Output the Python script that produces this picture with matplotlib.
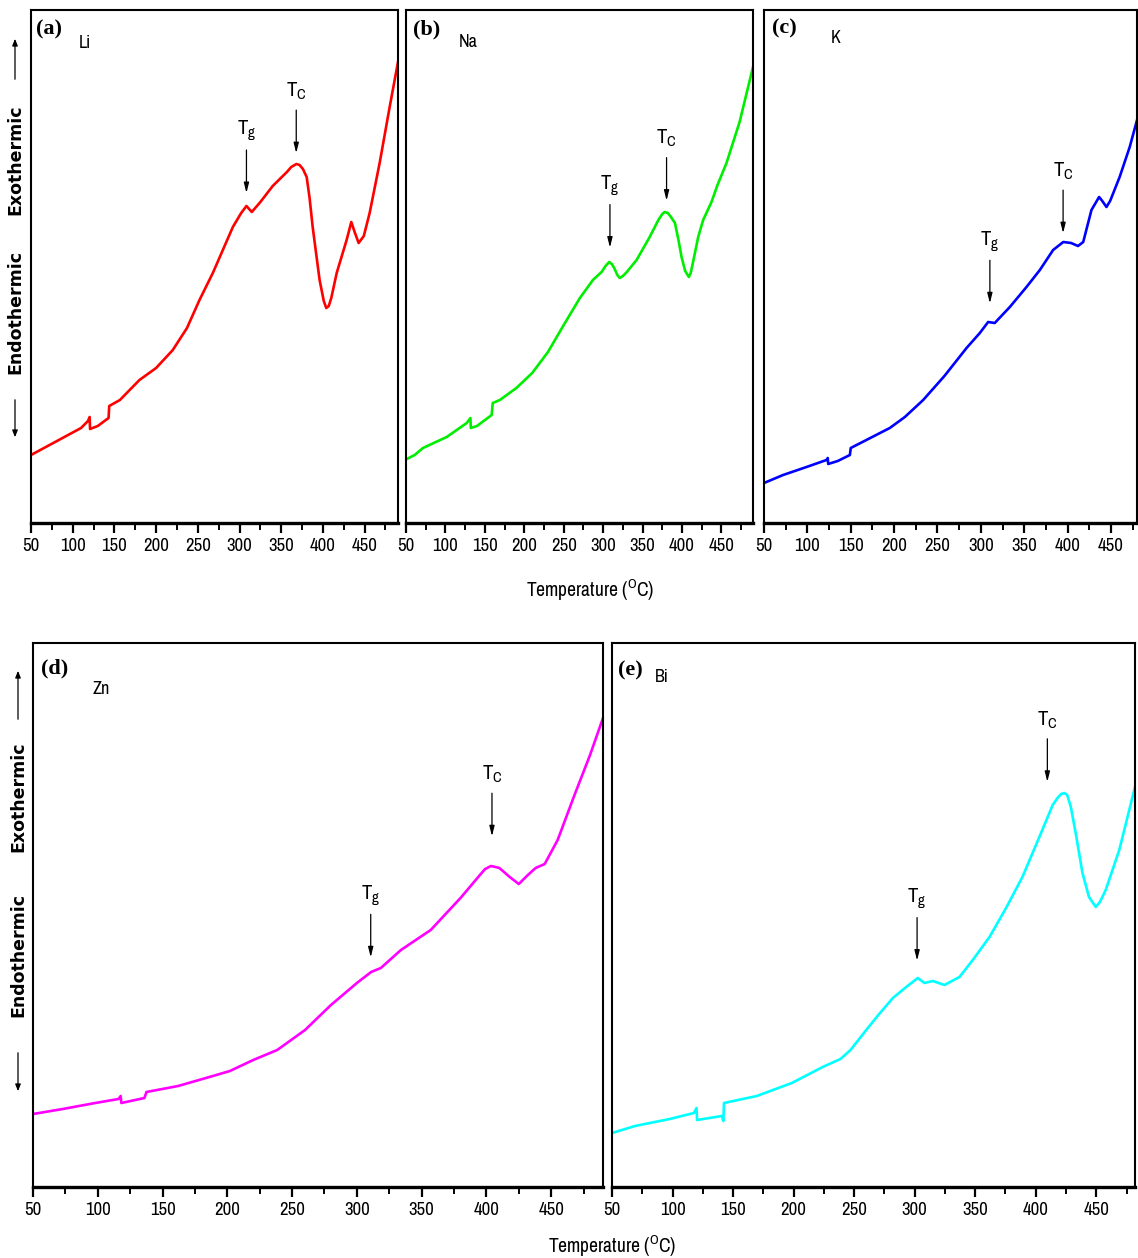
"""DSC traces of the Li / Na / K / Zn / Bi glass series."""

import numpy as np
import matplotlib
import matplotlib.pyplot as plt

matplotlib.use("Agg")

NARROW = ["Archivo Narrow", "Roboto Condensed", "Liberation Sans Narrow", "DejaVu Sans"]
plt.rcParams["font.family"] = NARROW
plt.rcParams["font.weight"] = "bold"

W, H = 1138, 1258  # figure size in pixels

# ---- data (temperature in C, heat flow in arb. units) ----
li_temp = [50, 70, 90, 110, 118.3, 120.3, 120.8, 130, 143, 143.8, 156.6, 180, 200, 220,
           237, 252, 268, 280, 292, 302, 308.3, 314.7, 325, 339.8, 356.8, 362, 368.2,
           372, 376, 380.5, 384, 387.7, 396, 401, 404, 407, 410, 416.5, 428.4, 434,
           438, 442.8, 449, 456, 468, 480, 490]
li_flow = [68, 77, 86, 95, 102, 106, 94, 97, 105, 117, 123, 143, 155, 173,
           195, 223, 250, 273, 296, 310, 317, 311, 321, 337, 351, 356, 359,
           358, 354, 346, 325, 296, 243, 222, 215, 217, 225, 250, 283, 301,
           291, 280, 287, 310, 360, 416, 461]

na_temp = [51, 61, 71.5, 101.6, 127, 131.7, 132.2, 140, 158.6, 160, 169, 190, 210, 230,
           250, 270.5, 287, 298, 303, 307.7, 311, 314, 318, 321, 325, 330, 342.4, 359,
           370, 375, 378, 382, 386, 391, 395, 399.4, 404, 408.7, 411, 414, 420.5, 426.8,
           437.4, 445, 456.4, 473, 490]
na_flow = [64, 68, 75, 86, 100, 105, 95, 97, 108, 120, 123, 135, 150, 171,
           198, 225, 243, 251, 257, 261, 259, 255, 248, 245, 247, 251, 263, 286,
           303, 309, 311, 310, 306, 300, 285, 266, 252, 246, 250, 261, 286, 303,
           321, 338, 360, 401, 456]

k_temp = [50, 72, 99, 122, 123.5, 124, 135, 149, 150, 168, 195, 212.4, 233.5, 258,
          283.5, 298.8, 308.4, 316, 333.4, 352.6, 368, 383.3, 395, 404, 412, 418,
          427.5, 436.3, 440, 444.8, 449, 460, 471.6, 481]
k_flow = [40, 48, 56, 63, 65, 59, 62, 68, 75, 83, 95, 106, 123, 147,
          175, 190, 201, 200, 216, 236, 253, 273, 281, 280, 277, 281,
          313, 326, 322, 316, 322, 346, 376, 406]

zn_temp = [50, 73, 98, 116, 117.7, 118.2, 136, 137.6, 162, 183.5, 202, 220, 238.5, 260,
           280, 300, 311, 318.5, 334, 357, 380, 395, 399, 403.5, 407, 410, 418, 425,
           432, 438, 445, 455, 468, 480, 490]
zn_flow = [73, 78, 84, 88, 91, 84, 89, 95, 101, 109, 116, 127, 137, 157,
           182, 204, 215, 219, 237, 257, 289, 312, 318, 321, 320, 319, 310, 303,
           312, 319, 323, 347, 392, 432, 469]

bi_temp = [50, 69, 97.7, 117.6, 119.8, 120.3, 140.7, 142, 142.5, 169.6, 198.5, 224,
           238.7, 247, 260, 270, 282, 293, 302.6, 308, 315, 324.6, 337, 348, 361.8,
           375.5, 389, 403, 414, 418, 421, 423.6, 426, 429, 433, 438.6, 444, 449.6,
           453, 457.8, 469, 482]
bi_flow = [54, 61, 68, 74, 79, 67, 71, 66, 84, 91, 104, 120,
           128, 137, 157, 172, 189, 200, 209, 204, 206, 202, 210, 227, 250,
           279, 310, 350, 382, 389, 393, 394, 392, 380, 354, 314, 290, 280,
           285, 297, 337, 400]

panel_tags = ["(a)", "(b)", "(c)", "(d)", "(e)"]
panel_ions = ["Li", "Na", "K", "Zn", "Bi"]
tg_marks = [308.3, 308.6, 310.4, 310.7, 302]     # glass transition
tc_marks = [368, 380.4, 394.8, 404.3, 409.6]     # crystallisation
tick_values = [50, 100, 150, 200, 250, 300, 350, 400, 450]

# ---- layout / style ----
colors = ["#ff0000", "#00ee00", "#0000ff", "#ff00ff", "#00ffff"]
boxes = [(31, 10, 398, 523), (406, 10, 753, 523), (764, 10, 1137, 523),
         (33, 643, 603, 1187), (612, 643, 1135, 1187)]  # left, top, right, bottom (px)
x_right = [490, 490, 480, 490, 482]
tag_off = [(5, 19), (7, 19), (8, 18), (8, 25), (6, 27)]
ion_off = [(48, 33), (53, 32), (67, 28), (60, 46), (43, 34)]
tg_gap = [13, 15, 19, 15, 18]
tc_gap = [11, 12, 9, 30, 36]

temps = [li_temp, na_temp, k_temp, zn_temp, bi_temp]
flows = [li_flow, na_flow, k_flow, zn_flow, bi_flow]


def place(box):
    left, top, right, bottom = box
    return [left / W, 1 - bottom / H, (right - left) / W, (bottom - top) / H]


def mark(ax, x, xs, ys, sub, gap):
    """Downward arrow with a T_sub label above the trace."""
    y = np.interp(x, xs, ys)
    ax.annotate("", xy=(x, y), xytext=(0, gap + 43), textcoords="offset pixels",
                xycoords="data",
                arrowprops=dict(arrowstyle="-|>,head_length=0.6,head_width=0.15",
                                lw=0.9, color="black", shrinkA=0, shrinkB=gap * 0.72))
    ax.annotate("T$_\\mathregular{%s}$" % sub, xy=(x, y),
                xytext=(0, gap + 62), textcoords="offset pixels",
                ha="center", va="center", fontsize=15, weight="medium")


def side_label(arrow_up, arrow_down, endo_c, exo_c, x_px):
    fx = x_px / W
    for text, yc in (("Endothermic", endo_c), ("Exothermic", exo_c)):
        fig.text(fx, 1 - yc / H, text, rotation=90, ha="center", va="center",
                 family="DejaVu Sans", weight="bold", fontsize=12.5)
    for (y0, y1) in (arrow_up, arrow_down):
        fig.add_artist(matplotlib.patches.FancyArrowPatch(
            (fx, 1 - y0 / H), (fx, 1 - y1 / H), transform=fig.transFigure,
            arrowstyle="-|>,head_length=4,head_width=1.6", lw=0.9, color="black"))


fig = plt.figure(figsize=(W / 100, H / 100), dpi=100)

for i in range(5):
    box = boxes[i]
    ax = fig.add_axes(place(box))
    ax.plot(temps[i], flows[i], color=colors[i], lw=1.9, solid_joinstyle="round")
    ax.set_xlim(50, x_right[i])
    ax.set_ylim(0, box[3] - box[1])
    ax.set_yticks([])
    ax.set_xticks(tick_values)
    ax.set_xticks(np.arange(75, x_right[i], 50), minor=True)
    ax.tick_params(axis="x", which="major", direction="out", length=7, width=1.6,
                   labelsize=13.5, pad=4)
    ax.tick_params(axis="x", which="minor", direction="out", length=5, width=1.4)
    for side in ("top", "left", "right"):
        ax.spines[side].set_linewidth(1.5)
    ax.spines["bottom"].set_linewidth(2.4)

    ax.annotate(panel_tags[i], xy=(0, 1), xycoords="axes fraction",
                xytext=(tag_off[i][0], -tag_off[i][1]), textcoords="offset pixels",
                ha="left", va="center", family=["Liberation Serif", "DejaVu Serif"],
                weight="bold", fontsize=16)
    ax.annotate(panel_ions[i], xy=(0, 1), xycoords="axes fraction",
                xytext=(ion_off[i][0], -ion_off[i][1]), textcoords="offset pixels",
                ha="left", va="center", fontsize=13, weight="medium")

    mark(ax, tg_marks[i], temps[i], flows[i], "g", tg_gap[i])
    mark(ax, tc_marks[i], temps[i], flows[i], "C", tc_gap[i])

fig.text(590 / W, 1 - 590 / H, "Temperature ($^\\mathregular{O}$C)",
         ha="center", va="center", fontsize=14, weight="semibold")
fig.text(612 / W, 1 - 1246 / H, "Temperature ($^\\mathregular{O}$C)",
         ha="center", va="center", fontsize=14, weight="semibold")

side_label((82, 36), (397, 440), 312, 160, 15)
side_label((722, 668), (1050, 1094), 955, 797, 18)

fig.savefig("out.png", dpi=100)
